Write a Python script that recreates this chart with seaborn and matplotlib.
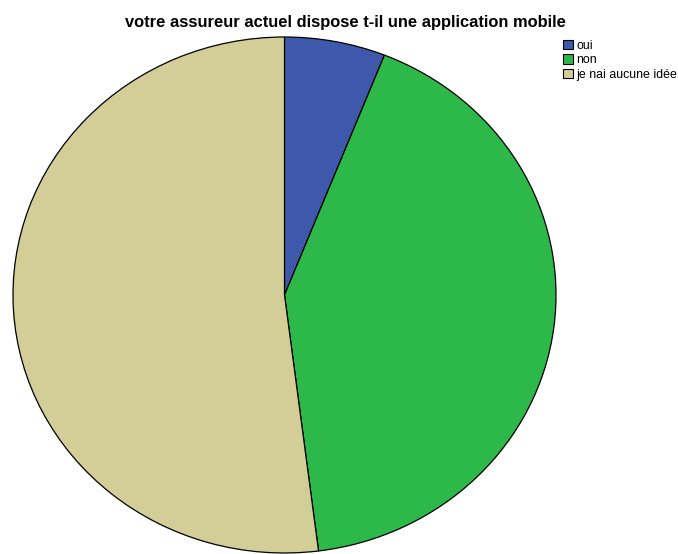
import matplotlib
matplotlib.use("Agg")
import matplotlib.pyplot as plt
import seaborn as sns
from matplotlib.patches import Patch

sns.set_style("white")
plt.rcParams['font.family'] = ['Liberation Sans', 'DejaVu Sans']

categories = ["oui", "non", "je nai aucune idée"]
values = [6, 42, 52]
colors = ["#3E58AC", "#2DB84A", "#D3CE97"]
title = "votre assureur actuel dispose t-il une application mobile"

fig = plt.figure(figsize=(6.78, 5.54), dpi=100)
ax = fig.add_axes([13/678, 1/554, 543/678, 516/554])
ax.pie(values, colors=colors, startangle=90, counterclock=False,
       wedgeprops=dict(edgecolor="black", linewidth=0.9), radius=1)
ax.set_aspect("auto")
ax.set_xlim(-1, 1)
ax.set_ylim(-1, 1)
ax.axis("off")

fig.text(345/678, 1 - 23/554, title, ha="center", va="center",
         fontsize=11.9, fontweight="bold", color="black")

handles = [Patch(facecolor=c, edgecolor="black", linewidth=0.8) for c in colors]
fig.legend(handles, categories, loc="upper left", bbox_to_anchor=(554/678, 1 - 31/554),
           frameon=False, fontsize=8.9, handlelength=0.8, handleheight=0.8,
           handletextpad=0.3, labelspacing=0.2, borderpad=0.2, labelcolor="black")

fig.savefig("out.png", dpi=100)
